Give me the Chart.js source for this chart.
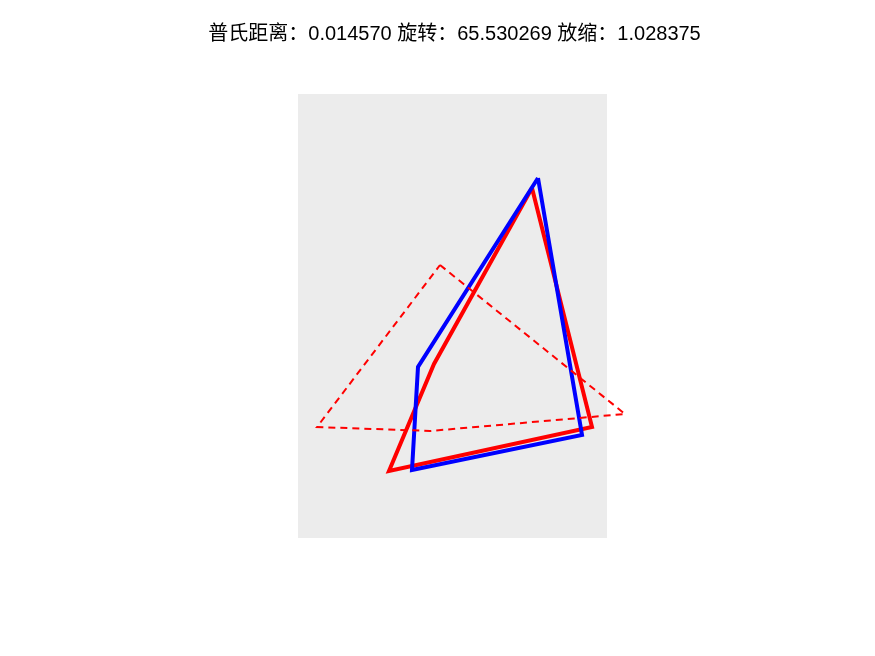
<!DOCTYPE html>
<html>
<head>
<meta charset="utf-8">
<script src="https://cdn.jsdelivr.net/npm/chart.js@4/dist/chart.umd.min.js"></script>
<style>
  html, body { margin: 0; padding: 0; background: #fff; }
  #wrap { width: 875px; height: 656px; }
</style>
</head>
<body>
<div id="wrap"><canvas id="myChart" width="875" height="656"></canvas></div>
<script>
// shape vertices (closed polygons, last point = first point)
const blueX = [240, 284, 114, 120, 240];
const blueY = [360, 103, 68, 171, 360];

const redX = [234, 294, 91, 136, 234];
const redY = [350, 111, 67, 174, 350];

const dashX = [142, 327, 132, 19, 142];
const dashY = [273, 124, 107, 111, 273];

const titleText = '普氏距离：0.014570 旋转：65.530269 放缩：1.028375';

function toPoints(xs, ys) {
    return xs.map((x, i) => ({ x: x, y: ys[i] }));
}

// grey axes box behind the lines
const axesBg = {
    id: 'axesBg',
    beforeDraw(chart) {
        const a = chart.chartArea;
        const c = chart.ctx;
        c.save();
        c.fillStyle = '#ececec';
        c.fillRect(a.left, a.top, a.right - a.left, a.bottom - a.top);
        c.restore();
    }
};

// title across the full figure width (the built-in one gets squeezed by the padding)
const figTitle = {
    id: 'figTitle',
    afterDraw(chart) {
        const c = chart.ctx;
        c.save();
        c.fillStyle = '#000';
        c.font = '20px Arial, "Noto Sans CJK SC", sans-serif';
        c.textAlign = 'center';
        c.textBaseline = 'middle';
        c.fillText(titleText, chart.width / 2 + 17, 34);
        c.restore();
    }
};

const ctx = document.getElementById('myChart').getContext('2d');
const myChart = new Chart(ctx, {
    type: 'scatter',
    data: {
        datasets: [{
            data: toPoints(dashX, dashY),
            showLine: true,
            borderColor: '#ff0000',
            borderWidth: 2,
            borderDash: [7, 5],
            pointRadius: 0,
            clip: false
        }, {
            data: toPoints(blueX, blueY),
            showLine: true,
            borderColor: '#0000ff',
            borderWidth: 4,
            borderJoinStyle: 'miter',
            pointRadius: 0,
            clip: false
        }, {
            data: toPoints(redX, redY),
            showLine: true,
            borderColor: '#ff0000',
            borderWidth: 4,
            borderJoinStyle: 'miter',
            pointRadius: 0,
            clip: false
        }]
    },
    options: {
        responsive: false,
        animation: false,
        layout: {
            padding: { left: 298, right: 268, top: 94, bottom: 118 }
        },
        scales: {
            x: { type: 'linear', min: 0, max: 309, display: false },
            y: { type: 'linear', min: 0, max: 444, display: false }
        },
        plugins: {
            legend: { display: false },
            tooltip: { enabled: false },
            title: { display: false }
        }
    },
    plugins: [axesBg, figTitle]
});
</script>
</body>
</html>
